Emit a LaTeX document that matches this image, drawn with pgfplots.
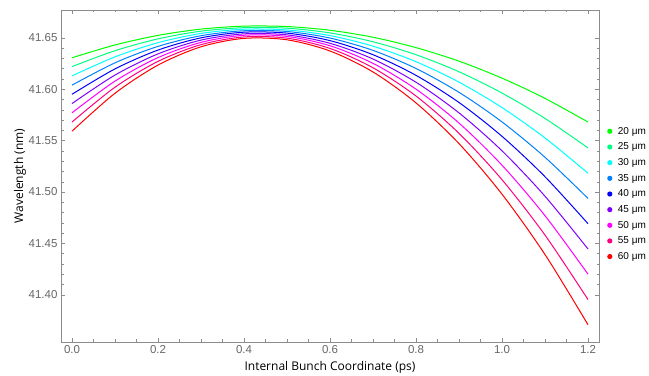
\documentclass[border=0pt]{standalone}
\usepackage{fontspec}
\setmainfont{Liberation Sans}
\newfontfamily\labelfont{Open Sans}
\usepackage{pgfplots}
\pgfplotsset{compat=1.18}
\definecolor{c20}{HTML}{00FF00}
\definecolor{c25}{HTML}{00FF80}
\definecolor{c30}{HTML}{00FFFF}
\definecolor{c35}{HTML}{0080FF}
\definecolor{c40}{HTML}{0000FF}
\definecolor{c45}{HTML}{8000FF}
\definecolor{c50}{HTML}{FF00FF}
\definecolor{c55}{HTML}{FF0080}
\definecolor{c60}{HTML}{FF0000}
\pgfplotsset{
  dotlegend/.style={legend image code/.code={\fill[##1,draw=none] (2.6pt,0pt) circle (2.6pt);\path (8.2pt,0pt);}},
}
\begin{document}
\begin{tikzpicture}
\begin{axis}[
  scale only axis, width=538pt, height=332pt,
  xmin=-0.0256, xmax=1.2256, ymin=41.354, ymax=41.677,
  xtick={0,0.2,0.4,0.6,0.8,1.0,1.2},
  ytick={41.40,41.45,41.50,41.55,41.60,41.65},
  minor x tick num=3, minor y tick num=4,
  /pgf/number format/assume math mode=true,
  xticklabel style={/pgf/number format/.cd, fixed, fixed zerofill, precision=1},
  yticklabel style={/pgf/number format/.cd, fixed, fixed zerofill, precision=2},
  axis line style={black!45},
  tick style={black!45},
  major tick length=4pt, minor tick length=2.5pt,
  tick label style={font=\fontsize{11.5}{13}\selectfont, text=black!60},
  xlabel={Internal Bunch Coordinate (ps)},
  ylabel={Wavelength (nm)},
  label style={font=\labelfont\fontsize{12}{14}\selectfont},
  x label style={at={(axis description cs:0.5,-0.075)}, anchor=center},
  y label style={at={(axis description cs:-0.076,0.5)}, anchor=center, rotate=0},
  legend style={at={(axis description cs:1,0.446)}, anchor=west, xshift=8pt,
    draw=none, fill=none, inner sep=0pt, row sep=3.2pt,
    font=\fontsize{10}{12}\selectfont},
  legend cell align=left,
  dotlegend,
  every axis plot/.append style={line width=1pt, smooth},
]
\addplot[c20] coordinates {(0,41.6305)(0.1,41.6430)(0.2,41.6523)(0.3,41.6584)(0.4,41.6613)(0.5,41.6609)(0.6,41.6573)(0.7,41.6505)(0.8,41.6404)(0.9,41.6272)(1.0,41.6107)(1.1,41.5910)(1.2,41.5680)};
\addlegendentry{20 μm}
\addplot[c25] coordinates {(0,41.6219)(0.1,41.6374)(0.2,41.6489)(0.3,41.6564)(0.4,41.6598)(0.5,41.6593)(0.6,41.6547)(0.7,41.6461)(0.8,41.6335)(0.9,41.6169)(1.0,41.5962)(1.1,41.5715)(1.2,41.5428)};
\addlegendentry{25 μm}
\addplot[c30] coordinates {(0,41.6129)(0.1,41.6314)(0.2,41.6452)(0.3,41.6542)(0.4,41.6583)(0.5,41.6576)(0.6,41.6521)(0.7,41.6418)(0.8,41.6267)(0.9,41.6068)(1.0,41.5821)(1.1,41.5525)(1.2,41.5182)};
\addlegendentry{30 μm}
\addplot[c35] coordinates {(0,41.6039)(0.1,41.6256)(0.2,41.6416)(0.3,41.6520)(0.4,41.6568)(0.5,41.6561)(0.6,41.6497)(0.7,41.6377)(0.8,41.6201)(0.9,41.5969)(1.0,41.5681)(1.1,41.5337)(1.2,41.4937)};
\addlegendentry{35 μm}
\addplot[c40] coordinates {(0,41.5950)(0.1,41.6197)(0.2,41.6380)(0.3,41.6499)(0.4,41.6554)(0.5,41.6545)(0.6,41.6472)(0.7,41.6335)(0.8,41.6134)(0.9,41.5870)(1.0,41.5541)(1.1,41.5148)(1.2,41.4691)};
\addlegendentry{40 μm}
\addplot[c45] coordinates {(0,41.5860)(0.1,41.6137)(0.2,41.6343)(0.3,41.6477)(0.4,41.6538)(0.5,41.6528)(0.6,41.6446)(0.7,41.6293)(0.8,41.6067)(0.9,41.5769)(1.0,41.5400)(1.1,41.4958)(1.2,41.4445)};
\addlegendentry{45 μm}
\addplot[c50] coordinates {(0,41.5770)(0.1,41.6078)(0.2,41.6307)(0.3,41.6455)(0.4,41.6524)(0.5,41.6513)(0.6,41.6422)(0.7,41.6251)(0.8,41.6000)(0.9,41.5670)(1.0,41.5260)(1.1,41.4769)(1.2,41.4200)};
\addlegendentry{50 μm}
\addplot[c55] coordinates {(0,41.5680)(0.1,41.6019)(0.2,41.6270)(0.3,41.6433)(0.4,41.6508)(0.5,41.6496)(0.6,41.6396)(0.7,41.6208)(0.8,41.5933)(0.9,41.5570)(1.0,41.5119)(1.1,41.4580)(1.2,41.3953)};
\addlegendentry{55 μm}
\addplot[c60] coordinates {(0,41.5591)(0.1,41.5960)(0.2,41.6234)(0.3,41.6412)(0.4,41.6494)(0.5,41.6480)(0.6,41.6371)(0.7,41.6167)(0.8,41.5866)(0.9,41.5470)(1.0,41.4978)(1.1,41.4391)(1.2,41.3708)};
\addlegendentry{60 μm}
\end{axis}
\pgfresetboundingbox
\path[use as bounding box] ([xshift=-61pt,yshift=-34pt]current axis.south west) rectangle ([xshift=50pt,yshift=10pt]current axis.north east);
\end{tikzpicture}
\end{document}
